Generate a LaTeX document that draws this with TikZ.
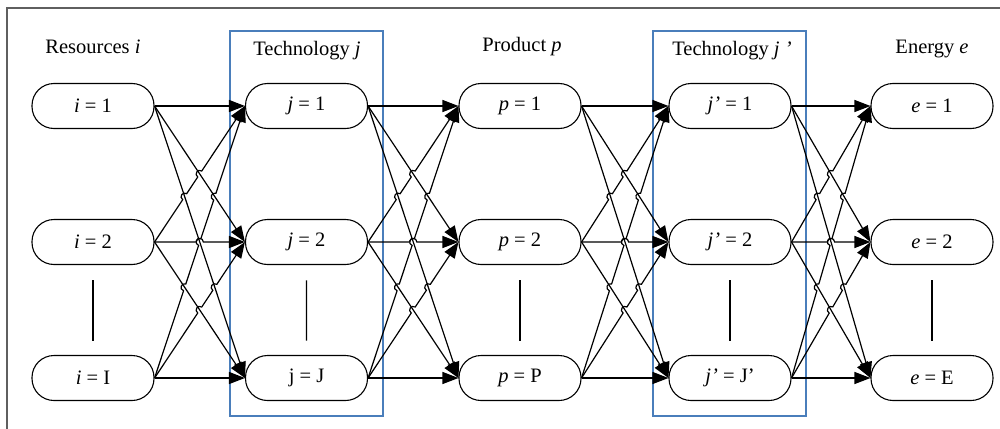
\documentclass[tikz,border=0pt]{standalone}
\usepackage{fontspec}
\setmainfont{Liberation Serif}
\usetikzlibrary{calc,arrows.meta}
\definecolor{groupblue}{RGB}{74,126,187}
\definecolor{framegray}{RGB}{95,95,95}
\newcommand\plainline[2]{\draw[link] (#1.east) -- (#2.west);}
\newcommand\hopline[3]{\draw[link] (#1.east)
  \foreach \u in {#3} { -- ($(#1.east)!\u!(#2.west)!3.6pt!(#1.east)$)
    to[bend left=90,looseness=1.7] ($(#1.east)!\u!(#2.west)!3.6pt!(#2.west)$) }
  -- (#2.west);}
\newcommand\gapfan[6]{%
  \plainline{#1}{#4}
  \plainline{#1}{#5}
  \plainline{#1}{#6}
  \hopline{#2}{#4}{0.3333,0.5}
  \hopline{#2}{#5}{0.5}
  \plainline{#2}{#6}
  \hopline{#3}{#4}{0.3333,0.5,0.6667}
  \hopline{#3}{#5}{0.5,0.6667}
  \plainline{#3}{#6}}
\begin{document}
\begin{tikzpicture}[x=1pt,y=-1pt,
  every node/.style={font=\fontsize{20.5}{24}\selectfont},
  box/.style={draw, line width=1.1pt, rounded corners=22pt, minimum width=122pt, minimum height=45pt, inner sep=0pt},
  link/.style={line width=1.2pt, -{Triangle[length=16pt,width=12pt]}},
  frame/.style={draw=framegray, line width=1.6pt},
  group/.style={draw=groupblue, line width=1.2pt},
  sep/.style={line width=1.2pt},
  title/.style={anchor=base}]
\useasboundingbox (0,0) rectangle (1000,428);
\draw[frame] (7,440) -- (7,8) -- (1010,8);
% group boxes
\draw[group] (230,31) rectangle (383,416);
\draw[group] (653,31) rectangle (806,416);
% titles
\node[title] (ti) at (93,53) {Resources \textit{i}};
\node[title] (tj) at (307,56) {Technology \textit{j}};
\node[title] (tp) at (522,52) {Product \textit{p}};
\node[title] (tk) at (732,56) {Technology \textit{j ’}};
\node[title] (te) at (932,53) {Energy \textit{e}};
% nodes
\node[box] (i1) at (93,106) {\textit{i} = 1};
\node[box] (i2) at (93,242) {\textit{i} = 2};
\node[box] (i3) at (93,378) {\textit{i} = I};
\node[box] (j1) at (306.5,106) {\textit{j} = 1};
\node[box] (j2) at (306.5,242) {\textit{j} = 2};
\node[box] (j3) at (306.5,378) {j = J};
\node[box] (p1) at (520,106) {\textit{p} = 1};
\node[box] (p2) at (520,242) {\textit{p} = 2};
\node[box] (p3) at (520,378) {\textit{p} = P};
\node[box] (k1) at (730,106) {\textit{j’} = 1};
\node[box] (k2) at (730,242) {\textit{j’} = 2};
\node[box] (k3) at (730,378) {\textit{j’} = J’};
\node[box] (e1) at (932,106) {\textit{e} = 1};
\node[box] (e2) at (932,242) {\textit{e} = 2};
\node[box] (e3) at (932,378) {\textit{e} = E};
% separators
\foreach \c in {i,j,p,k,e}{
  \draw[sep] ($(\c2.south)!0.17!(\c3.north)$) -- ($(\c2.south)!0.84!(\c3.north)$);
}
% connectors
\gapfan{i1}{i2}{i3}{j1}{j2}{j3}
\gapfan{j1}{j2}{j3}{p1}{p2}{p3}
\gapfan{p1}{p2}{p3}{k1}{k2}{k3}
\gapfan{k1}{k2}{k3}{e1}{e2}{e3}
\end{tikzpicture}
\end{document}
